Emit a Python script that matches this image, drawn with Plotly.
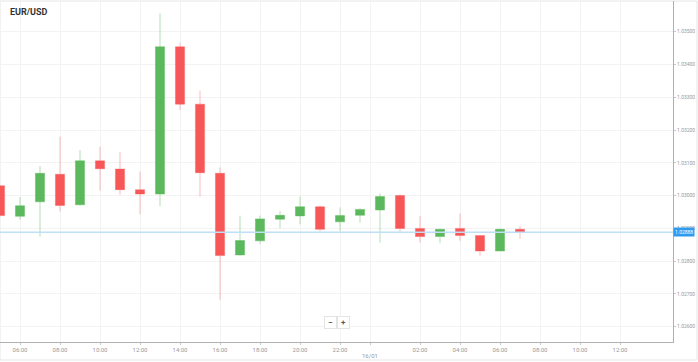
import plotly.graph_objects as go
import pandas as pd

# ---- data ----
times = pd.date_range("2025-01-15 05:00", periods=27, freq="h")
opens  = [1.03030, 1.02937, 1.02981, 1.03065, 1.02972, 1.03106, 1.03081, 1.03018, 1.03005,
          1.03454, 1.03279, 1.03068, 1.02819, 1.02862, 1.02928, 1.02938, 1.02966, 1.02920,
          1.02940, 1.02956, 1.03000, 1.02900, 1.02875, 1.02900, 1.02878, 1.02831, 1.02897]
highs  = [1.03033, 1.02996, 1.03090, 1.03180, 1.03139, 1.03149, 1.03132, 1.03073, 1.03556,
          1.03466, 1.03320, 1.03086, 1.02939, 1.02939, 1.02953, 1.02997, 1.02969, 1.02964,
          1.02961, 1.03007, 1.03004, 1.02938, 1.02897, 1.02946, 1.02878, 1.02900, 1.02907]
lows   = [1.02937, 1.02926, 1.02875, 1.02951, 1.02969, 1.03015, 1.03003, 1.02943, 1.02968,
          1.03261, 1.02997, 1.02682, 1.02817, 1.02852, 1.02900, 1.02912, 1.02890, 1.02892,
          1.02917, 1.02856, 1.02885, 1.02856, 1.02855, 1.02862, 1.02816, 1.02831, 1.02868]
closes = [1.02939, 1.02969, 1.03068, 1.02970, 1.03106, 1.03082, 1.03018, 1.03005, 1.03454,
          1.03279, 1.03070, 1.02817, 1.02863, 1.02929, 1.02940, 1.02966, 1.02897, 1.02939,
          1.02958, 1.02997, 1.02900, 1.02875, 1.02897, 1.02878, 1.02831, 1.02897, 1.02888]

y_ticks = [1.02600, 1.02700, 1.02800, 1.02900, 1.03000, 1.03100, 1.03200, 1.03300, 1.03400, 1.03500]
x_tick_times = ["2025-01-15 06:00", "2025-01-15 08:00", "2025-01-15 10:00", "2025-01-15 12:00",
                "2025-01-15 14:00", "2025-01-15 16:00", "2025-01-15 18:00", "2025-01-15 20:00",
                "2025-01-15 22:00", "2025-01-15 23:30", "2025-01-16 02:00", "2025-01-16 04:00",
                "2025-01-16 06:00", "2025-01-16 08:00", "2025-01-16 10:00", "2025-01-16 12:00"]
x_tick_text = ["06:00", "08:00", "10:00", "12:00", "14:00", "16:00", "18:00", "20:00", "22:00",
               "", "02:00", "04:00", "06:00", "08:00", "10:00", "12:00"]
date_label = "16/01"
date_label_time = "2025-01-15 23:30"
title = "EUR/USD"
current_price = closes[-1]

GREEN = "#5cb85c"
RED = "#f75757"

fig = go.Figure(go.Candlestick(
    x=times, open=opens, high=highs, low=lows, close=closes,
    increasing=dict(fillcolor=GREEN, line=dict(color="rgba(92,184,92,0.45)", width=1)),
    decreasing=dict(fillcolor=RED, line=dict(color="rgba(247,87,87,0.4)", width=1)),
    whiskerwidth=0, showlegend=False, hoverinfo="skip",
))

fig.add_shape(type="line", xref="paper", x0=0, x1=1, yref="y", y0=current_price, y1=current_price,
              line=dict(color="#bfdff6", width=1.5), layer="above")
# outer frame
fig.add_shape(type="rect", xref="paper", yref="paper", x0=0, x1=697/673, y0=-18/341, y1=1,
              line=dict(color="#e6e6e6", width=1), layer="below")

fig.add_annotation(text="<b>" + title + "</b>", xref="paper", yref="paper", x=8/673, y=1 - 11/341,
                   xanchor="left", yanchor="middle", showarrow=False,
                   font=dict(size=9, color="#333333", family="Roboto"))
fig.add_annotation(text=date_label, xref="x", yref="paper", x=date_label_time, y=-13/341,
                   xanchor="center", yanchor="middle", showarrow=False,
                   font=dict(size=6, color="#999999", family="Roboto"))
fig.add_annotation(text=f"{current_price:.5f}", xref="paper", yref="y", x=1, y=current_price,
                   xanchor="left", yanchor="middle", showarrow=False, bgcolor="#2f9bf0",
                   borderpad=1, font=dict(size=5, color="white", family="Roboto"))
for txt, px in [("−", 330), ("+", 343)]:
    fig.add_annotation(text="<b>" + txt + "</b>", xref="paper", yref="paper", x=px / 673, y=(342 - 322) / 341,
                       xanchor="center", yanchor="middle", showarrow=False, bgcolor="white",
                       bordercolor="#e4e4e4", borderwidth=1, borderpad=1, width=9, height=9,
                       font=dict(size=8, color="#555555", family="Roboto"))

fig.update_layout(
    width=698, height=362,
    margin=dict(l=0, r=25, t=1, b=20, autoexpand=False),
    paper_bgcolor="white", plot_bgcolor="white",
    boxgap=0.35,
    font=dict(family="Roboto", color="#999999"),
    xaxis=dict(
        type="date", range=["2025-01-15 05:00", "2025-01-16 14:39"],
        rangeslider=dict(visible=False),
        tickmode="array", tickvals=x_tick_times, ticktext=x_tick_text,
        showgrid=True, gridcolor="#f3f3f3", gridwidth=1,
        showline=True, linecolor="#b0b0b0", linewidth=1,
        ticks="outside", ticklen=2, tickcolor="#c8c8c8",
        tickfont=dict(size=6, color="#999999"), zeroline=False, fixedrange=True,
    ),
    yaxis=dict(
        side="right", range=[1.025534, 1.035937],
        tickmode="array", tickvals=y_ticks, ticktext=[f"{v:.5f}" for v in y_ticks],
        showgrid=True, gridcolor="#f3f3f3", gridwidth=1,
        showline=True, linecolor="#b0b0b0", linewidth=1,
        ticks="outside", ticklen=2, tickcolor="#c8c8c8",
        tickfont=dict(size=5, color="#999999"), zeroline=False, fixedrange=True,
    ),
)

fig.write_html("out.html", config={"displayModeBar": False},
               post_script="document.body.style.margin='0';document.body.style.overflow='hidden';")
